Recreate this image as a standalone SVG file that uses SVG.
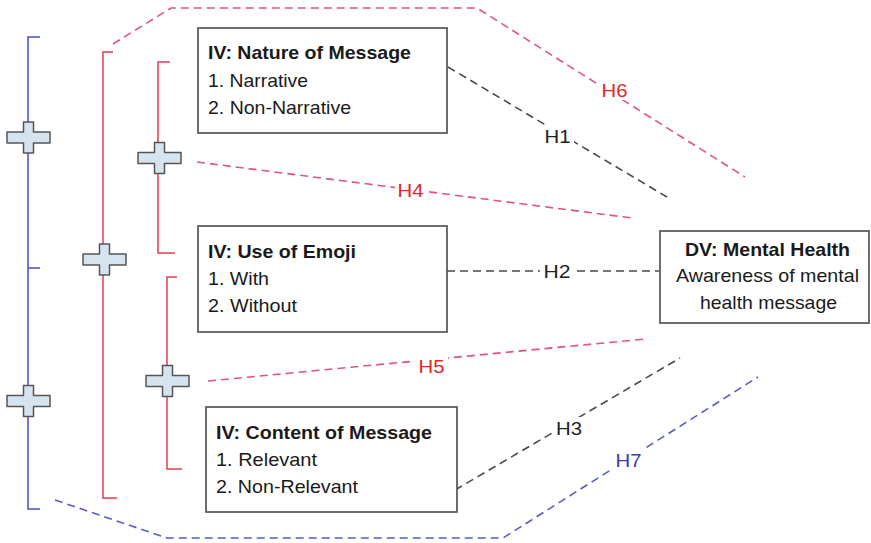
<svg xmlns="http://www.w3.org/2000/svg" width="871" height="543" viewBox="0 0 871 543">
<style>
  .box { fill: #ffffff; stroke: #555555; stroke-width: 1.7; }
  .t { font-family: "Liberation Sans", Arial, sans-serif; font-size: 18.5px; fill: #1a1a1a; }
  .b { font-weight: bold; }
  .dash { fill: none; stroke-width: 1.6; stroke-dasharray: 8 5; }
  .gray { stroke: #4a4a4a; }
  .red { stroke: #e0557a; }
  .blue { stroke: #5a5ac8; }
  .lbl { font-family: "Liberation Sans", Arial, sans-serif; font-size: 18.5px; text-anchor: middle; }
  .bk { fill: #ffffff; stroke: none; }
  .br { fill: none; stroke-width: 1.5; }
  .plus { fill: #d6e4f0; stroke: #555555; stroke-width: 1.5; stroke-linejoin: round; }
</style>
<defs>
  <path id="plus" class="plus" d="M -5,-15.5 H 5 V -5.5 H 21.5 V 5.5 H 5 V 15.5 H -5 V 5.5 H -21.5 V -5.5 H -5 Z"/>
</defs>
<rect width="871" height="543" fill="#ffffff"/>

<g id="connectors">
  <path class="dash red" d="M113,44 L171,8 L477,8 L745,177"/>
  <path class="dash gray" d="M448,67 L667,197"/>
  <path class="dash red" d="M197,162 L632,218"/>
  <path class="dash gray" d="M447,271 L659,271"/>
  <path class="dash red" d="M208,381 L645,339"/>
  <path class="dash gray" d="M455,490 L680,358"/>
  <path class="dash blue" d="M55,500 L167,538 L503,538 L758,377"/>
  <g id="labels">
    <rect class="bk" x="600" y="79" width="30" height="21"/>
    <text class="lbl" x="614.5" y="97" fill="#e02828" textLength="26" lengthAdjust="spacingAndGlyphs">H6</text>
    <rect class="bk" x="542" y="125" width="32" height="21"/>
    <text class="lbl" x="557.5" y="143" fill="#222222" textLength="26" lengthAdjust="spacingAndGlyphs">H1</text>
    <rect class="bk" x="395" y="179" width="32" height="21"/>
    <text class="lbl" x="410.5" y="197" fill="#e02828" textLength="26" lengthAdjust="spacingAndGlyphs">H4</text>
    <rect class="bk" x="540" y="260" width="34" height="21"/>
    <text class="lbl" x="557" y="277.5" fill="#222222" textLength="27" lengthAdjust="spacingAndGlyphs">H2</text>
    <rect class="bk" x="415" y="355" width="33" height="21"/>
    <text class="lbl" x="431.5" y="373" fill="#e02828" textLength="26" lengthAdjust="spacingAndGlyphs">H5</text>
    <rect class="bk" x="553" y="417" width="32" height="21"/>
    <text class="lbl" x="569" y="435" fill="#222222" textLength="26" lengthAdjust="spacingAndGlyphs">H3</text>
    <rect class="bk" x="613" y="449" width="32" height="21"/>
    <text class="lbl" x="628.5" y="467" fill="#3c3cae" textLength="26" lengthAdjust="spacingAndGlyphs">H7</text>
  </g>
</g>

<g id="bracket-blue">
  <path class="br" stroke="#4a4ad0" d="M40,37 H28 V509 H40 M28,268 H40"/>
  <use href="#plus" x="28.5" y="137.5"/>
  <use href="#plus" x="28.5" y="401"/>
</g>
<g id="bracket-red-outer">
  <path class="br" stroke="#e0404f" d="M113,52 H103 V498 H117"/>
  <use href="#plus" x="104.5" y="259.5"/>
</g>
<g id="bracket-red-top">
  <path class="br" stroke="#e0404f" d="M170,62 H158 V253 H175"/>
  <use href="#plus" x="159.5" y="158"/>
</g>
<g id="bracket-red-bottom">
  <path class="br" stroke="#e0404f" d="M177,277 H167 V469 H182"/>
  <use href="#plus" x="167.5" y="381"/>
</g>

<g id="iv-nature">
  <rect class="box" x="198" y="28" width="249" height="105"/>
  <text class="t b" x="208" y="58.5" textLength="203" lengthAdjust="spacingAndGlyphs">IV: Nature of Message</text>
  <text class="t" x="208" y="87" textLength="100" lengthAdjust="spacingAndGlyphs">1. Narrative</text>
  <text class="t" x="208" y="113.5" textLength="143" lengthAdjust="spacingAndGlyphs">2. Non-Narrative</text>
</g>
<g id="iv-emoji">
  <rect class="box" x="198" y="226" width="249" height="106"/>
  <text class="t b" x="208" y="257.5" textLength="148" lengthAdjust="spacingAndGlyphs">IV: Use of Emoji</text>
  <text class="t" x="208" y="285" textLength="61" lengthAdjust="spacingAndGlyphs">1. With</text>
  <text class="t" x="208" y="311.5" textLength="89" lengthAdjust="spacingAndGlyphs">2. Without</text>
</g>
<g id="iv-content">
  <rect class="box" x="206" y="407" width="251" height="105"/>
  <text class="t b" x="216" y="438.5" textLength="216" lengthAdjust="spacingAndGlyphs">IV: Content of Message</text>
  <text class="t" x="216" y="465.5" textLength="101" lengthAdjust="spacingAndGlyphs">1. Relevant</text>
  <text class="t" x="216" y="493" textLength="142" lengthAdjust="spacingAndGlyphs">2. Non-Relevant</text>
</g>
<g id="dv-mental-health">
  <rect class="box" x="660" y="231" width="209" height="92"/>
  <text class="t b" x="685" y="256" textLength="165" lengthAdjust="spacingAndGlyphs">DV: Mental Health</text>
  <text class="t" x="676" y="282" textLength="183" lengthAdjust="spacingAndGlyphs">Awareness of mental</text>
  <text class="t" x="700" y="308.5" textLength="137" lengthAdjust="spacingAndGlyphs">health message</text>
</g>
</svg>
